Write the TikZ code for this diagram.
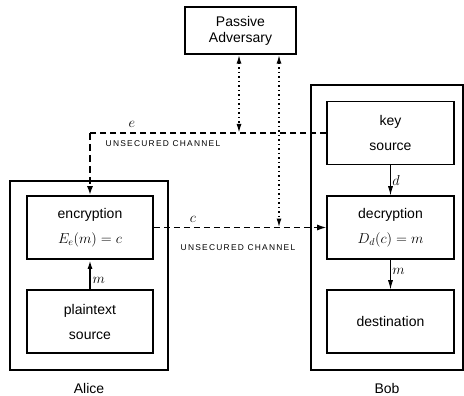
\documentclass[tikz,border=0pt]{standalone}
\usepackage{fontspec}
\setmainfont{Liberation Sans}
\newfontfamily\canalfont[LetterSpace=15]{Liberation Sans}
\usepackage{tikz}
\usetikzlibrary{arrows.meta, positioning, calc}

\tikzset{
  boite/.style={draw, line width=1.6pt, minimum width=126pt, minimum height=63pt,
    inner sep=0pt, align=center, font=\fontsize{14}{25}\selectfont},
  cadre/.style={draw, line width=1.8pt, inner sep=0pt},
  canal/.style={line width=1.2pt, dash pattern=on 6pt off 4pt},
  ecoute/.style={line width=1.5pt, dash pattern=on 1.5pt off 3pt,
    {Latex[length=9pt,width=5pt]}-{Latex[length=9pt,width=5pt]}},
  fleche/.style={line width=0.7pt, -{Latex[length=9pt,width=5pt]}},
  etiq/.style={font=\fontsize{14}{16}\selectfont, inner sep=1.5pt},
  avert/.style={font=\canalfont\fontsize{8.4}{10}\selectfont, inner sep=0pt},
}

\begin{document}
\begin{tikzpicture}[x=1pt, y=-1pt]
    \useasboundingbox (0,0) rectangle (464,396);
    % Cadres
    \node[cadre, minimum width=158pt, minimum height=189pt] (alice) at (89,275.5) {};
    \node[cadre, minimum width=152pt, minimum height=285pt] (bob) at (387,227.5) {};
    \node[etiq, below=11pt of alice] (nomA) {Alice};
    \node[etiq, below=11pt of bob] (nomB) {Bob};
    % Boites
    \node[boite, minimum width=111pt, minimum height=47pt, line width=1.3pt,
      font=\fontsize{14}{16}\selectfont] (adv) at (240.5,30.5) {Passive\\Adversary};
    \node[boite] (enc) at (90,227.5) {encryption\\$E_e(m) = c$};
    \node[boite] (plain) at (90,321.5) {plaintext\\source};
    \node[boite, minimum width=127pt] (cle) at (390.5,133) {key\\source};
    \node[boite, minimum width=127pt] (dec) at (390.5,227.5) {decryption\\$D_d(c) = m$};
    \node[boite, minimum width=127pt] (dest) at (390.5,321.5) {destination};
    % Canaux
    \coordinate (coinE) at (enc.north |- cle.west);
    \draw[canal] (cle.west) -- (coinE);
    \draw[canal, line width=2.2pt, dash pattern=on 7pt off 4pt,
      -{Latex[length=9pt,width=6pt]}] (coinE) -- (enc.north);
    \draw[canal, -{Latex[length=9pt,width=6pt]}] (enc.east) -- (dec.west);
    \node[etiq] (lblE) at (132,124) {$e$};
    \node[avert] (canalE) at (163,144) {UNSECURED CHANNEL};
    \node[etiq] (lblC) at (193,219) {$c$};
    \node[avert] (canalC) at (238,248) {UNSECURED CHANNEL};
    % Ecoute
    \coordinate (tapE) at (239,133);
    \coordinate (tapC) at (279,227.5);
    \draw[ecoute] (adv.south -| tapE) -- (tapE);
    \draw[ecoute] (adv.south -| tapC) -- (tapC);
    % Messages
    \draw[fleche, line width=2pt] (plain) -- node[etiq, right, pos=0.3] {$m$} (enc);
    \draw[fleche] (cle) -- node[etiq, right, pos=0.5] {$d$} (dec);
    \draw[fleche] (dec) -- node[etiq, right, pos=0.4] {$m$} (dest);
\end{tikzpicture}
\end{document}
